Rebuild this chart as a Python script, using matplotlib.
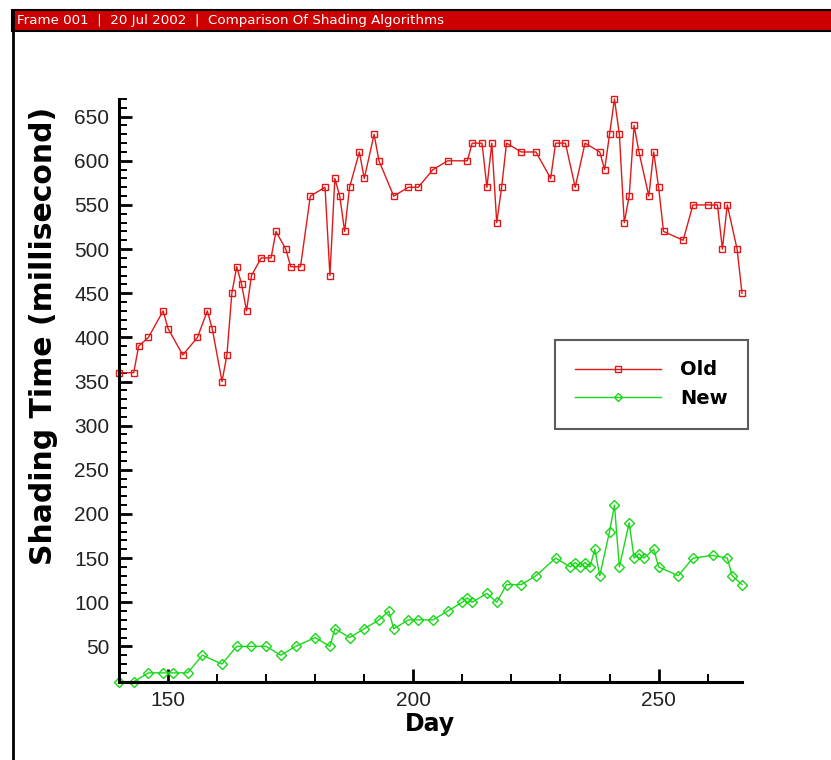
import matplotlib
matplotlib.use("Agg")
import matplotlib.pyplot as plt
from matplotlib.patches import Rectangle
from matplotlib.lines import Line2D
from matplotlib.ticker import MultipleLocator

# shading time per day, old vs new algorithm
old_day = [140, 143, 144, 146, 149, 150, 153, 156, 158, 159, 161, 162, 163, 164, 165,
           166, 167, 169, 171, 172, 174, 175, 177, 179, 182, 183, 184, 185, 186, 187,
           189, 190, 192, 193, 196, 199, 201, 204, 207, 211, 212, 214, 215, 216, 217,
           218, 219, 222, 225, 228, 229, 231, 233, 235, 238, 239, 240, 241, 242, 243,
           244, 245, 246, 248, 249, 250, 251, 255, 257, 260, 262, 263, 264, 266, 267]
old_val = [360, 360, 390, 400, 430, 410, 380, 400, 430, 410, 350, 380, 450, 480, 460,
           430, 470, 490, 490, 520, 500, 480, 480, 560, 570, 470, 580, 560, 520, 570,
           610, 580, 630, 600, 560, 570, 570, 590, 600, 600, 620, 620, 570, 620, 530,
           570, 620, 610, 610, 580, 620, 620, 570, 620, 610, 590, 630, 670, 630, 530,
           560, 640, 610, 560, 610, 570, 520, 510, 550, 550, 550, 500, 550, 500, 450]

new_day = [140, 143, 146, 149, 151, 154, 157, 161, 164, 167, 170, 173, 176, 180, 183,
           184, 187, 190, 193, 195, 196, 199, 201, 204, 207, 210, 211, 212, 215, 217,
           219, 222, 225, 229, 232, 233, 234, 235, 236, 237, 238, 240, 241, 242, 244,
           245, 246, 247, 249, 250, 254, 257, 261, 264, 265, 267]
new_val = [10, 10, 20, 20, 20, 20, 40, 30, 50, 50, 50, 40, 50, 60, 50,
           70, 60, 70, 80, 90, 70, 80, 80, 80, 90, 100, 105, 100, 110, 100,
           120, 120, 130, 150, 140, 145, 140, 145, 140, 160, 130, 180, 210, 140, 190,
           150, 155, 150, 160, 140, 130, 150, 153, 150, 130, 120]

W, H = 831, 760
fig = plt.figure(figsize=(W / 100, H / 100), dpi=100)
fig.patch.set_facecolor('white')

# frame header like the original tecplot page
fig.patches.append(Rectangle((12 / W, 1 - 31 / H), 1, 21 / H, transform=fig.transFigure,
                             facecolor='#cc0000', edgecolor='black', lw=1.5))
fig.add_artist(Line2D([12.5 / W, 12.5 / W], [0, 1 - 10 / H], color='black', lw=2,
                      transform=fig.transFigure))
fig.text(17 / W, 1 - 20.5 / H, 'Frame 001  |  20 Jul 2002  |  Comparison Of Shading Algorithms',
         color='white', fontsize=9.6, va='center', ha='left')

ax = fig.add_axes([119 / W, 1 - 681.7 / H, (742 - 119) / W, (681.7 - 99) / H])

red = '#e01818'
green = '#18d818'
ax.plot(old_day, old_val, color=red, lw=1.0, marker='s', ms=5.0, mfc='none',
        mec=red, mew=1.0, label='Old', clip_on=False)
ax.plot(new_day, new_val, color=green, lw=1.0, marker='D', ms=5.2, mfc='none',
        mec=green, mew=1.0, label='New', clip_on=False)

ax.set_xlim(min(old_day), max(old_day))
ax.set_ylim(min(new_val), max(old_val))

ax.xaxis.set_major_locator(MultipleLocator(50))
ax.xaxis.set_minor_locator(MultipleLocator(10))
ax.yaxis.set_major_locator(MultipleLocator(50))
ax.yaxis.set_minor_locator(MultipleLocator(10))

for s in ['top', 'right']:
    ax.spines[s].set_visible(False)
for s in ['left', 'bottom']:
    ax.spines[s].set_linewidth(2.2)
ax.tick_params(which='major', direction='in', length=9.5, width=2, labelsize=15,
               labelcolor='#222222', pad=7, labelfontfamily='Liberation Sans')
ax.tick_params(which='minor', direction='in', length=6, width=1.4)

ax.set_xlabel('Day', fontsize=17, fontweight='bold')
ax.set_ylabel('Shading Time (millisecond)', fontsize=21.5, fontweight='bold')
ax.xaxis.set_label_coords(0.499, -0.052)
ax.yaxis.set_label_coords(-0.098, 0.593)

leg = ax.legend(loc='upper left', bbox_to_anchor=(555 / W, 1 - 340 / H),
                bbox_transform=fig.transFigure, borderaxespad=0, fancybox=False,
                frameon=True, handlelength=4.4, handletextpad=1.0,
                labelspacing=0.5, borderpad=1.05, prop={'weight': 'bold', 'size': 14},
                markerscale=0.8)
leg.get_frame().set_edgecolor('#333333')
leg.get_frame().set_linewidth(1.5)

fig.savefig('out.png', dpi=100)
